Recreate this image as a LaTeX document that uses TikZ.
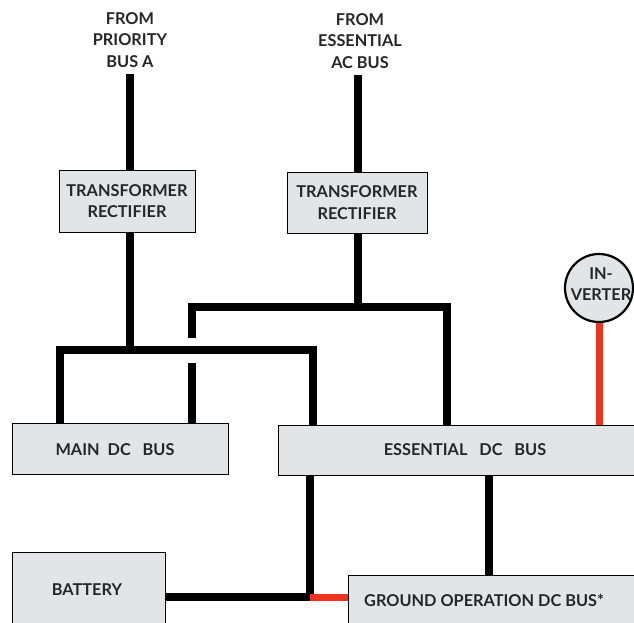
\documentclass[tikz,border=0pt]{standalone}
\usepackage{fontspec}
\setmainfont{Lato}
\definecolor{boxgray}{RGB}{226,229,231}
\definecolor{wirered}{RGB}{238,52,30}
\begin{document}
\begin{tikzpicture}[x=1pt,y=-1pt,
  every node/.style={font=\fontsize{16.3}{21.5}\selectfont\bfseries, text=black!85},
  busbox/.style={draw=black, line width=1.4pt, fill=boxgray, inner sep=0pt, anchor=north west},
  lbl/.style={align=center, inner sep=0pt},
  wire/.style={line width=8pt, black, line join=miter},
  redwire/.style={line width=7pt, wirered}]
\useasboundingbox (0,0) rectangle (634,622);
\clip (0,0) rectangle (634,622);
\fill[white] (0,0) rectangle (634,622);

% source labels
\node[lbl] (srcA) at (130,40) {FROM\\PRIORITY\\BUS A};
\node[lbl] (srcB) at (360,41) {FROM\\ESSENTIAL\\AC BUS};
\coordinate (topA) at (130,74);
\coordinate (topB) at (358,75);

% boxes
\node[busbox, minimum width=136pt, minimum height=62pt] (tr1) at (59,170) {};
\node[lbl] (tr1t) at (127,201) {TRANSFORMER\\RECTIFIER};
\node[busbox, minimum width=140pt, minimum height=61pt] (tr2) at (287,172) {};
\node[lbl] (tr2t) at (357,202.5) {TRANSFORMER\\RECTIFIER};

\node[busbox, minimum width=216pt, minimum height=51pt] (main) at (12,423) {};
\node[lbl] (maint) at (115,450) {MAIN\ \ DC\ \ \ BUS};
\node[busbox, minimum width=420pt, minimum height=50pt] (ess) at (278,425) {};
\node[lbl] (esst) at (465,450) {ESSENTIAL\ \ \ DC\ \ \ BUS};

\node[busbox, minimum width=153pt, minimum height=90pt] (bat) at (12,552) {};
\node[lbl] (batt) at (87,590) {BATTERY};
\node[busbox, minimum width=350pt, minimum height=80pt] (gnd) at (348,575) {};
\node[lbl, anchor=west] (gndt) at (364,600) {GROUND\ OPERATION\ DC\ BUS*};

\node[draw=black, line width=2.2pt, fill=boxgray, circle, minimum size=68pt, inner sep=0pt] (inv) at (599,288) {};
\node[lbl] (invt) at (601,284) {IN-\\VERTER};

% wires from sources
\draw[wire] (topA) -- (topA |- tr1.north);
\draw[wire] (topB) -- (topB |- tr2.north);

% TR1 distribution
\coordinate (j1) at (130,350);
\draw[wire] (tr1.south -| j1) -- (j1);
\draw[wire] (main.north -| 60,0) -- (60,350) -- (313,350) -- (ess.north -| 313,0);

% TR2 distribution
\coordinate (j2) at (358,307);
\draw[wire] (tr2.south -| j2) -- (j2);
\draw[wire] (192,338) -- (192,307) -- (447,307) -- (ess.north -| 447,0);
\draw[wire] (192,363) -- (main.north -| 192,0);

% inverter
\draw[redwire] (inv.south) -- (ess.north -| inv.south);

% lower connections
\coordinate (j3) at (310,597);
\draw[wire] (ess.south -| j3) -- (j3) -- (bat.east |- j3);
\draw[redwire] (j3) -- (gnd.west |- j3);
\draw[wire] (ess.south -| 489,0) -- (gnd.north -| 489,0);
\end{tikzpicture}
\end{document}
